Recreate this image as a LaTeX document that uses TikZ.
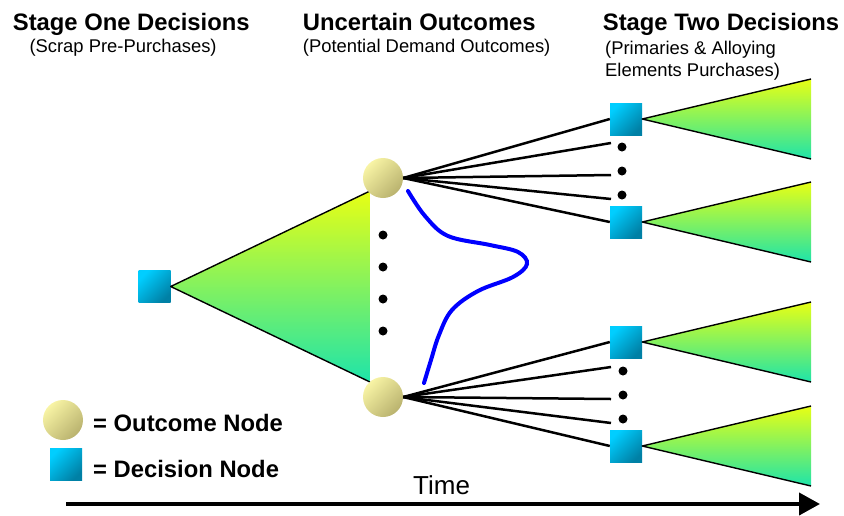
\documentclass[tikz,border=0pt]{standalone}
\usepackage{fontspec}
\setmainfont{Liberation Sans}
\usetikzlibrary{arrows.meta}
\definecolor{sqA}{RGB}{0,206,255}
\definecolor{sqB}{RGB}{0,128,165}
\definecolor{ciA}{RGB}{248,244,165}
\definecolor{ciB}{RGB}{185,178,110}
\definecolor{trA}{RGB}{232,255,20}
\definecolor{trB}{RGB}{30,228,170}
\definecolor{curveblue}{RGB}{0,0,255}
\begin{document}
\begin{tikzpicture}[x=1pt,y=-1pt,
 decision/.style={rectangle,minimum size=32pt,inner sep=0pt,top color=sqA,bottom color=sqB,shading angle=45},
 outcome/.style={circle,minimum size=40pt,inner sep=0pt,top color=ciA,bottom color=ciB,shading angle=45},
 dotnode/.style={circle,fill=black,minimum size=9pt,inner sep=0pt},
 fan/.style={line width=2.5pt},
 edge/.style={line width=1.4pt,line join=round},
 tri/.style={top color=trA,bottom color=trB},
 head/.style={anchor=base west,inner sep=0pt,font=\fontsize{23.8}{28}\selectfont\bfseries},
 sub/.style={anchor=base west,inner sep=0pt,font=\fontsize{18.4}{22}\selectfont},
]
\useasboundingbox (0,0) rectangle (844,515);

% headings
\node[head] (h1) at (12.7,30) {Stage One Decisions};
\node[sub] (h1s) at (29.3,52) {(Scrap Pre-Purchases)};
\node[head] (h2) at (302.7,30) {Uncertain Outcomes};
\node[sub] (h2s) at (302.7,52) {(Potential Demand Outcomes)};
\node[head] (h3) at (602.7,30) {Stage Two Decisions};
\node[sub] (h3s) at (605,54) {(Primaries \& Alloying};
\node[sub] (h3t) at (605,76) {Elements Purchases)};

% decision squares
\node[decision] (d0) at (154.5,286.5) {};
\node[decision] (s1) at (626,119) {};
\node[decision] (s2) at (626,222) {};
\node[decision] (s3) at (626,342) {};
\node[decision] (s4) at (626,446) {};

% triangle corners
\coordinate (b1) at (370,191);
\coordinate (b2) at (370,382);
\coordinate (r1a) at (811,79);  \coordinate (r1b) at (811,159);
\coordinate (r2a) at (811,182); \coordinate (r2b) at (811,262);
\coordinate (r3a) at (811,302); \coordinate (r3b) at (811,382);
\coordinate (r4a) at (811,406); \coordinate (r4b) at (811,486);

% triangles
\shade[tri] (d0.east) -- (b1) -- (b2) -- cycle;
\draw[edge] (b1) -- (d0.east) -- (b2);
\foreach \s/\a/\b in {s1/r1a/r1b,s2/r2a/r2b,s3/r3a/r3b,s4/r4a/r4b}{
  \shade[tri] (\s.east) -- (\a) -- (\b) -- cycle;
  \draw[edge] (\a) -- (\s.east) -- (\b);
}

% outcome nodes
\node[outcome] (o1) at (383,178) {};
\node[outcome] (o2) at (383,397) {};

% dots between outcome nodes
\node[dotnode] (m1) at (383,235) {};
\node[dotnode] (m2) at (383,267) {};
\node[dotnode] (m3) at (383,299) {};
\node[dotnode] (m4) at (383,331) {};

% dots between stage-two squares
\node[dotnode] (p1) at (622,147) {};
\node[dotnode] (p2) at (622,171) {};
\node[dotnode] (p3) at (622,195) {};
\node[dotnode] (q1) at (623,371) {};
\node[dotnode] (q2) at (623,395) {};
\node[dotnode] (q3) at (623,419) {};

% fan line ends
\coordinate (u2) at (611,143);
\coordinate (u3) at (611,175);
\coordinate (u4) at (611,199);
\coordinate (l2) at (611,367);
\coordinate (l3) at (611,399);
\coordinate (l4) at (611,423);

\draw[fan] (o1.east) -- (s1.west);
\draw[fan] (o1.east) -- (u2);
\draw[fan] (o1.east) -- (u3);
\draw[fan] (o1.east) -- (u4);
\draw[fan] (o1.east) -- (s2.west);
\draw[fan] (o2.east) -- (s3.west);
\draw[fan] (o2.east) -- (l2);
\draw[fan] (o2.east) -- (l3);
\draw[fan] (o2.east) -- (l4);
\draw[fan] (o2.east) -- (s4.west);

% distribution curve
\draw[curveblue,line width=4pt,line cap=round] plot[smooth,tension=0.6] coordinates
 {(408,191) (425,216) (448,236) (490,245) (518,252) (527,264) (513,277) (478,291) (452,310) (439,335) (431,360) (424,383)};

% legend
\node[outcome] (lo) at (63,420) {};
\node[decision] (ld) at (66,464) {};
\node[head] (lt1) at (93,431.5) {= Outcome Node};
\node[head] (lt2) at (93,477) {= Decision Node};

% time axis
\coordinate (ta) at (66,504);
\coordinate (tb) at (820,504);
\draw[line width=4pt,-{Triangle[length=21pt,width=22pt]}] (ta) -- (tb);
\node[anchor=base west,inner sep=0pt,font=\fontsize{26}{30}\selectfont] (tl) at (413,494) {Time};
\end{tikzpicture}
\end{document}
